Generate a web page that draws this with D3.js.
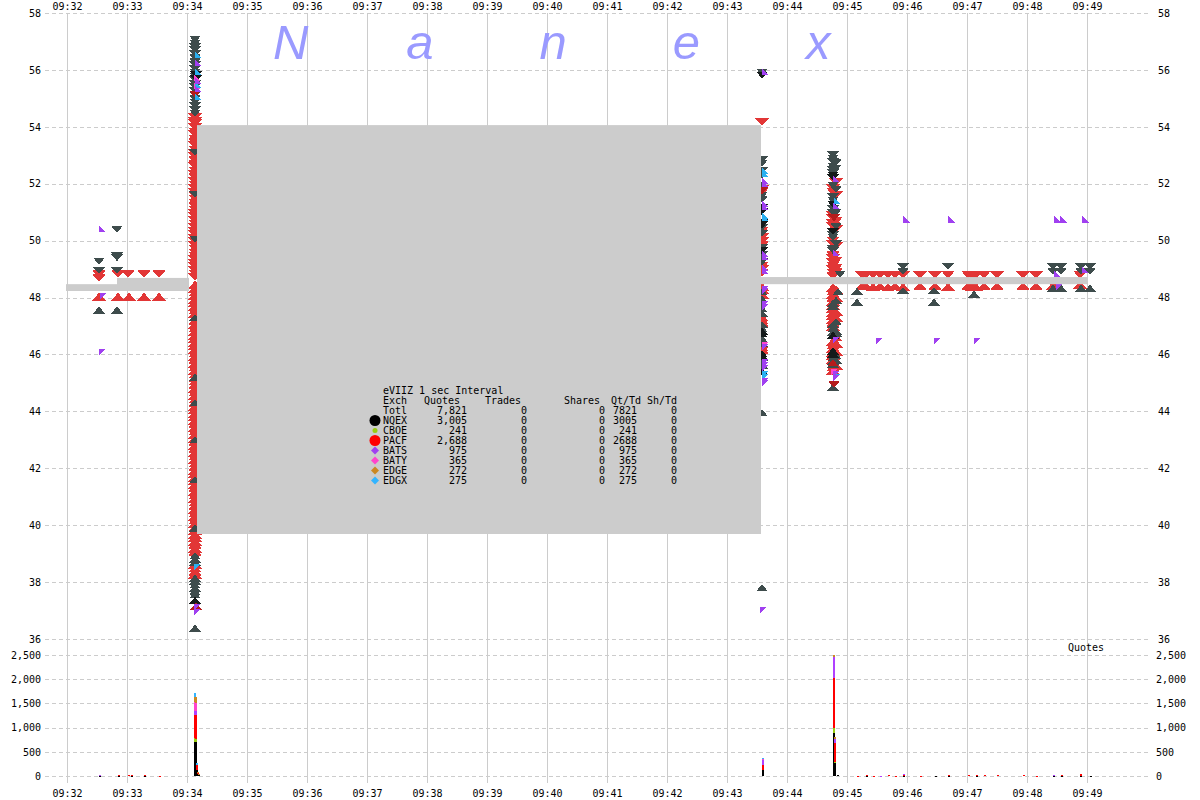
<!DOCTYPE html>
<html><head><meta charset="utf-8">
<script src="https://cdn.jsdelivr.net/npm/d3@7"></script>
<style>
body{margin:0;background:#fff}
text{font-family:"DejaVu Sans Mono",monospace;font-size:10px;fill:#000}
</style>
</head><body>
<svg id="chart" width="1200" height="800"></svg>
<script>
// ---------------- DATA ----------------
const timeTicks = ["09:32","09:33","09:34","09:35","09:36","09:37","09:38","09:39","09:40","09:41","09:42","09:43","09:44","09:45","09:46","09:47","09:48","09:49"];
const priceTicks = [36,38,40,42,44,46,48,50,52,54,56,58];
const volumeTicks = [0,500,1000,1500,2000,2500];
const watermarkLetters = ["N","a","n","e","x"];

// individual quotes: [time, price, side]  side a = ask (down), b = bid (up)
const nqexQuotes = [
  ["09:32:32",49.28,"a"],["09:32:32",48.95,"a"],["09:32:50",50.4,"a"],["09:32:50",49.47,"a"],["09:32:50",49.4,"a"],["09:32:50",48.95,"a"],
  ["09:32:32",47.56,"b"],["09:32:50",47.56,"b"],
  ["09:44:53",48.82,"a"],["09:44:51",48.2,"b"],["09:44:49",46.75,"b"],
  ["09:45:56",49.09,"a"],["09:45:56",48.92,"a"],["09:46:41",49.09,"a"],
  ["09:48:26",49.09,"a"],["09:48:34",49.09,"a"],["09:48:26",48.92,"a"],["09:48:34",48.92,"a"],
  ["09:48:54",49.09,"a"],["09:49:03",49.09,"a"],["09:48:54",48.92,"a"],["09:49:03",48.92,"a"],
  ["09:45:10",48.22,"b"],["09:45:10",47.84,"b"],["09:45:56",48.25,"b"],["09:46:27",48.25,"b"],["09:46:27",47.84,"b"],["09:47:07",48.12,"b"],
  ["09:48:26",48.33,"b"],["09:48:34",48.33,"b"],["09:48:54",48.33,"b"],["09:49:03",48.33,"b"]
];
const pacfQuotes = [
  ["09:32:32",48.83,"a"],["09:32:32",48.69,"a"],["09:32:51",48.83,"a"],["09:33:01",48.83,"a"],["09:33:17",48.83,"a"],["09:33:32",48.83,"a"],
  ["09:32:32",48.03,"b"],["09:32:51",48.03,"b"],["09:33:02",48.03,"b"],["09:33:17",48.03,"b"],["09:33:32",48.03,"b"],
  ["09:45:15",48.78,"a"],["09:45:19",48.8,"a"],["09:45:26",48.8,"a"],["09:45:33",48.78,"a"],["09:45:41",48.8,"a"],["09:45:48",48.78,"a"],["09:45:56",48.78,"a"],
  ["09:46:13",48.78,"a"],["09:46:28",48.78,"a"],["09:46:41",48.8,"a"],["09:47:01",48.8,"a"],["09:47:05",48.78,"a"],["09:47:09",48.78,"a"],["09:47:17",48.8,"a"],
  ["09:47:30",48.78,"a"],["09:47:56",48.78,"a"],["09:48:09",48.78,"a"],["09:48:53",48.8,"a"],
  ["09:45:15",48.4,"b"],["09:45:19",48.4,"b"],["09:45:26",48.38,"b"],["09:45:33",48.4,"b"],["09:45:41",48.36,"b"],["09:45:48",48.4,"b"],["09:45:56",48.38,"b"],
  ["09:46:13",48.4,"b"],["09:46:28",48.4,"b"],["09:46:41",48.38,"b"],["09:47:01",48.4,"b"],["09:47:05",48.38,"b"],["09:47:09",48.38,"b"],["09:47:17",48.4,"b"],
  ["09:47:30",48.4,"b"],["09:47:56",48.4,"b"],["09:48:09",48.4,"b"],["09:48:26",48.42,"b"],["09:48:53",48.45,"b"]
];
const batsQuotes = [
  ["09:32:35",50.42,"a"],["09:32:35",46.06,"b"],["09:32:36",48.05,"b"],
  ["09:43:36",37.0,"b"],
  ["09:45:59",50.76,"a"],["09:46:44",50.76,"a"],["09:48:30",50.76,"a"],["09:48:36",50.76,"a"],["09:48:58",50.76,"a"],
  ["09:45:32",46.47,"b"],["09:46:30",46.47,"b"],["09:47:10",46.47,"b"],
  ["09:48:30",48.85,"a"],["09:48:58",49.0,"a"],["09:48:32",48.35,"b"]
];

// the bursts of quotes (price lists per burst)
const burstTimes = ["09:34:08","09:43:35","09:44:46","09:44:49"];
// burst 1 (09:34:08)
const pacfAsk1 = [54.33,54.2,54.12,53.98,53.83,53.74,53.58,53.47,53.36,53.2,53.08,52.97,52.84,52.7,52.61,52.46,52.33,52.24,52.08,51.97,51.85,51.7,51.61,51.48,51.33,51.22,51.09,50.96,50.86,50.71,50.6,50.47,50.34,50.22,50.08,49.98,49.84,49.72,49.58,49.47,49.35,49.21,49.1,48.96,48.84,48.72];
const pacfBid1 = [48.45,48.3,48.18,48.06,47.92,47.81,47.67,47.55,47.42,47.3,47.17,47.05,46.92,46.8,46.66,46.55,46.42,46.3,46.17,46.04,45.92,45.8,45.67,45.55,45.42,45.3,45.16,45.05,44.92,44.8,44.67,44.55,44.42,44.29,44.17,44.05,43.92,43.8,43.66,43.55,43.42,43.3,43.17,43.04,42.92,42.8,42.67,42.55,42.42,42.3,42.17,42.04,41.92,41.8,41.67,41.55,41.42,41.3,41.17,41.05,40.92,40.8,40.67,40.55,40.42,40.3,40.17,40.04,39.92,39.8,39.67,39.55,39.42,39.3,39.17,39.05,38.6,38.48,38.35,38.25];
const nqexAsk1 = [57.08,56.94,56.82,56.7,56.56,56.44,56.3,56.18,56.05,55.92,55.78,55.66,55.52,55.4,55.26,55.14,55.0,54.87,54.74,54.6,54.48,53.1,51.62,50.05];
const nqexBid1 = [47.3,45.2,44.3,43.0,41.6,39.9,38.92,38.8,38.7,38.14,38.02,37.9,37.78,37.66,37.55,36.38];
const darkAsk1 = [55.84,55.7];
const darkBid1 = [37.36];
const redDarkAsk1 = [55.15];
const redDarkBid1 = [37.15];
const batsAsk1 = [56.25,55.62,55.35];
const batsBid1 = [37.1,36.92];
const batyAsk1 = [55.75,55.45];
const edgxAsk1 = [56.55,55.95,55.5,55.05];
const edgxBid1 = [38.5];
// burst 2 (09:43:35)
const pacfAsk2 = [54.17,51.8,51.72,50.35,50.12,49.98,49.85,49.12,49.0,48.88];
const pacfBid2 = [48.38,48.28,48.1,47.3,47.2,47.1,46.35,46.25,46.15];
const nqexAsk2 = [55.92,52.85,52.72,52.45,52.3,51.95,51.6,51.45,50.45,50.25,49.75,49.5,49.38,49.25];
const nqexBid2 = [48.2,47.95,47.82,47.6,47.45,47.05,46.9,46.55,46.4,45.9,45.78,45.62,43.95,37.8];
const darkAsk2 = [55.82,51.15,51.02,50.62,50.55,49.65];
const darkBid2 = [46.82,46.72,46.02,45.92,45.4];
const redDarkAsk2 = [51.75];
const batsAsk2 = [55.95,52.1,52.0,51.3,51.2,49.55,49.45,49.05,48.95];
const batsBid2 = [48.3,48.2,47.75,47.65,46.25,45.7,45.6,45.5,45.05,44.98];
const batyBid2 = [46.3];
const edgxAsk2 = [52.45,52.35,50.88,50.8];
const edgxBid2 = [45.28,45.2];
// burst 3 (09:44:46)
const pacfAsk3 = [51.85,51.72,50.9,50.78,50.62,50.5,50.0,49.88,49.5,49.38,49.25,49.12,49.0,48.88,48.76];
const pacfBid3 = [48.35,48.22,48.1,47.98,47.85,47.72,47.6,47.47,47.35,47.22,47.1,46.97,46.45,46.32,46.2,46.05,45.95,45.82,45.55,45.42];
const nqexAsk3 = [53.02,52.9,52.78,52.62,52.5,52.38,51.95,51.55,51.42,51.12,50.98,50.2,50.12,49.72,49.65];
const nqexBid3 = [47.8,47.7,47.05,46.9,46.78,45.88,45.75,45.65,44.85];
const darkAsk3 = [52.3,52.22,51.28,50.32];
const darkBid3 = [46.68,46.12,46.0];
const redDarkAsk3 = [50.8,44.95];
const redDarkBid3 = [45.7];
const batsAsk3 = [52.2,49.6,51.25];
const batsBid3 = [46.5,45.3,45.15];
const batyBid3 = [45.38];
const edgxAsk3 = [51.4];
const edgxBid3 = [45.2];
// burst 4 (09:44:49, right edge of the same burst)
const pacfAsk4 = [52.05,51.6,50.7,50.4,49.8,49.3,49.05,48.9];
const pacfBid4 = [48.28,48.0,47.5,47.28,46.6,46.38,46.1,45.6];
const nqexAsk4 = [52.75,52.55,51.8,51.0,50.5,49.9];
const nqexBid4 = [47.9,47.15,46.82,45.95,45.8];
// offsets (s) of the small right-angle markers to the right of each burst
const smallMarkerShift = [3,3,3];

// gray NBBO band segments
const bandStart = ["09:31:59","09:32:50","09:34:10","09:43:34"];
const bandEnd   = ["09:32:50","09:34:02","09:43:34","09:49:01"];
const bandLow   = [48.23,48.23,39.69,48.47];
const bandHigh  = [48.47,48.69,54.06,48.72];

// quote counts per second, stacked by exchange
const volTimes = ["09:32:32","09:32:51","09:33:01","09:33:04","09:33:17","09:33:32","09:34:07","09:34:08","09:34:09","09:34:10","09:34:11",
  "09:43:35","09:44:46","09:44:47","09:44:50","09:45:10","09:45:19","09:45:26","09:45:33","09:45:41","09:45:48","09:45:56","09:46:13",
  "09:46:28","09:46:41","09:47:01","09:47:09","09:47:17","09:47:30","09:47:56","09:48:09","09:48:26","09:48:34","09:48:53","09:49:03"];
const volNqex = [8,4,0,2,2,0,710,700,120,40,30,124,882,262,20,0,2,0,0,0,0,6,0,8,8,0,2,0,0,0,0,8,10,4,8];
const volCboe = [0,0,0,0,0,0,75,70,0,0,0,0,103,34,0,0,0,0,0,0,0,0,0,0,0,0,0,0,0,0,0,0,0,0,0];
const volPacf = [6,10,12,10,12,10,475,490,110,20,10,103,1033,380,0,10,12,10,8,12,10,28,10,0,4,12,10,14,12,12,8,6,4,30,0];
const volBats = [2,0,0,0,0,0,90,85,0,0,0,103,447,82,0,0,0,0,2,0,0,2,0,0,0,0,0,0,0,0,0,2,0,0,0];
const volBaty = [0,0,0,0,0,0,185,170,0,0,0,29,0,0,0,0,0,0,0,0,0,0,0,0,0,0,0,0,0,0,0,0,0,0,0];
const volEdge = [0,0,0,0,0,0,105,115,0,25,10,0,35,42,0,0,0,0,0,0,0,0,0,0,0,0,0,0,0,0,0,0,0,0,0];
const volEdgx = [0,0,0,0,0,0,80,0,30,0,0,19,0,0,0,0,0,0,0,0,0,0,0,0,0,0,0,0,0,0,0,0,0,0,0];

// legend table
const legendTitle = "eVIIZ 1 sec Interval";
const legendHeader = ["Exch","Quotes","Trades","Shares","Qt/Td","Sh/Td"];
const legendExch = ["Totl","NQEX","CBOE","PACF","BATS","BATY","EDGE","EDGX"];
const legendQuotes = ["7,821","3,005","241","2,688","975","365","272","275"];
const legendTrades = ["0","0","0","0","0","0","0","0"];
const legendShares = ["0","0","0","0","0","0","0","0"];
const legendQtTd = ["7821","3005","241","2688","975","365","272","275"];
const legendShTd = ["0","0","0","0","0","0","0","0"];

// ---------------- DRAW ----------------
const svg = d3.select("#chart");
const secs = t => { const p = t.split(":").map(Number); return p[0]*3600 + p[1]*60 + (p[2]||0); };
const hms = s => [Math.floor(s/3600), Math.floor(s/60)%60, s%60].map(v => String(v).padStart(2,"0")).join(":");

function burst(i, prices, side, shift) {
  const t = hms(secs(burstTimes[i]) + (shift || 0));
  return (prices || []).map(p => [t, p, side]);
}
const sh = smallMarkerShift;
const pacfAll = pacfQuotes.concat(burst(3,pacfAsk4,"a"),burst(3,pacfBid4,"b"),burst(0,pacfAsk1,"a"),burst(0,pacfBid1,"b"),burst(1,pacfAsk2,"a"),burst(1,pacfBid2,"b"),burst(2,pacfAsk3,"a"),burst(2,pacfBid3,"b"));
const nqexAll = nqexQuotes.concat(burst(3,nqexAsk4,"a"),burst(3,nqexBid4,"b"),burst(0,nqexAsk1,"a"),burst(0,nqexBid1,"b"),burst(1,nqexAsk2,"a"),burst(1,nqexBid2,"b"),burst(2,nqexAsk3,"a"),burst(2,nqexBid3,"b"));
const darkAll = [].concat(burst(0,darkAsk1,"a",1),burst(0,darkBid1,"b"),burst(1,darkAsk2,"a"),burst(1,darkBid2,"b"),burst(2,darkAsk3,"a"),burst(2,darkBid3,"b"));
const redDarkAll = [].concat(burst(0,redDarkAsk1,"a"),burst(0,redDarkBid1,"b",1),burst(1,redDarkAsk2,"a"),burst(2,redDarkAsk3,"a",1),burst(2,redDarkBid3,"b"));
const batsAll = batsQuotes.concat(burst(0,batsAsk1,"a",sh[0]),burst(0,batsBid1,"b",2),burst(1,batsAsk2,"a",sh[1]),burst(1,batsBid2,"b",sh[1]),burst(2,batsAsk3,"a",sh[2]),burst(2,batsBid3,"b",sh[2]));
const batyAll = [].concat(burst(0,batyAsk1,"a",2),burst(1,batyBid2,"b",sh[1]),burst(2,batyBid3,"b",1));
const edgxAll = [].concat(burst(0,edgxAsk1,"a",sh[0]),burst(0,edgxBid1,"b",2),burst(1,edgxAsk2,"a",sh[1]),burst(1,edgxBid2,"b",sh[1]),burst(2,edgxAsk3,"a",4),burst(2,edgxBid3,"b",4));

const x = d3.scaleLinear().domain([secs("09:31:38"), secs("09:50:03")]).range([45, 1150]);
const yP = d3.scaleLinear().domain([36, 58]).range([639, 13]);
const yV = d3.scaleLinear().domain([0, 2500]).range([776, 655]);

const gridColor = "#cccccc";
const grid = svg.append("g");
grid.selectAll(".hp").data(priceTicks).join("line")
  .attr("x1", x.range()[0]).attr("x2", x.range()[1])
  .attr("y1", d => Math.round(yP(d)) + 0.5).attr("y2", d => Math.round(yP(d)) + 0.5)
  .attr("stroke", gridColor).attr("stroke-dasharray", "4,3");
grid.selectAll(".hv").data(volumeTicks).join("line")
  .attr("x1", x.range()[0]).attr("x2", x.range()[1])
  .attr("y1", d => Math.round(yV(d)) + 0.5).attr("y2", d => Math.round(yV(d)) + 0.5)
  .attr("stroke", gridColor).attr("stroke-dasharray", "4,3");
grid.selectAll(".vt").data(timeTicks).join("line")
  .attr("x1", d => Math.round(x(secs(d))) + 0.5).attr("x2", d => Math.round(x(secs(d))) + 0.5)
  .attr("y1", yP(58)).attr("y2", 783)
  .attr("stroke", gridColor);

// watermark
const wmX = d3.scalePoint().domain(d3.range(watermarkLetters.length)).range([273, 806]);
svg.append("g").selectAll("text").data(watermarkLetters).join("text")
  .attr("x", (d, i) => wmX(i)).attr("y", 59)
  .style("font-family", "'Liberation Sans', Arial, sans-serif").style("font-style", "italic")
  .style("font-size", "49px").style("fill", "#9a9aff")
  .text(d => d);

// axes
function styleAxis(g) { g.select(".domain").remove(); g.selectAll("text").style("font-family", "'DejaVu Sans Mono',monospace").style("font-size", "10px").attr("fill", "#000"); }
svg.append("g").attr("transform", "translate(0,13)")
  .call(d3.axisTop(x).tickValues(timeTicks.map(secs)).tickSize(0).tickPadding(3).tickFormat((d, i) => timeTicks[i])).call(styleAxis);
svg.append("g").attr("transform", "translate(0,783)")
  .call(d3.axisBottom(x).tickValues(timeTicks.map(secs)).tickSize(0).tickPadding(7).tickFormat((d, i) => timeTicks[i])).call(styleAxis);
svg.append("g").attr("transform", "translate(45,0)")
  .call(d3.axisLeft(yP).tickValues(priceTicks).tickSize(0).tickPadding(4).tickFormat(d3.format("d"))).call(styleAxis);
svg.append("g").attr("transform", "translate(1150,0)")
  .call(d3.axisRight(yP).tickValues(priceTicks).tickSize(0).tickPadding(8).tickFormat(d3.format("d"))).call(styleAxis);
svg.append("g").attr("transform", "translate(45,0)")
  .call(d3.axisLeft(yV).tickValues(volumeTicks).tickSize(0).tickPadding(4).tickFormat(d3.format(","))).call(styleAxis);
svg.append("g").attr("transform", "translate(1150,0)")
  .call(d3.axisRight(yV).tickValues(volumeTicks).tickSize(0).tickPadding(6).tickFormat(d3.format(","))).call(styleAxis);

// markers
function triPath(d, w, h) {
  const cx = x(secs(d[0])), cy = yP(d[1]);
  if (d[2] === "a") return `M${cx - w/2},${cy - h/2}L${cx + w/2},${cy - h/2}L${cx},${cy + h/2}Z`;
  return `M${cx - w/2},${cy + h/2}L${cx + w/2},${cy + h/2}L${cx},${cy - h/2}Z`;
}
function halfPath(d, s) {
  const cx = x(secs(d[0])), cy = yP(d[1]);
  const l = cx - s/2, r = cx + s/2, t = cy - s/2, b = cy + s/2;
  if (d[2] === "a") return `M${l},${t}L${l},${b}L${r},${b}Z`;
  return `M${l},${t}L${r},${t}L${l},${b}Z`;
}
const mk = svg.append("g").attr("shape-rendering", "crispEdges");
function drawTri(data, color, w, h) {
  mk.append("g").selectAll("path").data(data).join("path").attr("d", d => triPath(d, w, h)).attr("fill", color);
}
function drawHalf(data, color, s) {
  mk.append("g").selectAll("path").data(data).join("path").attr("d", d => halfPath(d, s)).attr("fill", color);
}
drawTri(pacfAll, "#e23636", 14, 8);
drawTri(nqexAll, "#3e4c4c", 12, 7);
drawTri(darkAll, "#141a1a", 12, 7);
drawTri(redDarkAll, "#b41c1c", 12, 7);
drawHalf(batyAll, "#ff44cc", 7);
drawHalf(edgxAll, "#2ab0f0", 7);
drawHalf(batsAll, "#a040f0", 7);

// band (drawn over the markers)
svg.append("g").selectAll("rect").data(bandStart).join("rect")
  .attr("x", (d, i) => x(secs(d)))
  .attr("width", (d, i) => x(secs(bandEnd[i])) - x(secs(d)))
  .attr("y", (d, i) => yP(bandHigh[i]))
  .attr("height", (d, i) => yP(bandLow[i]) - yP(bandHigh[i]))
  .attr("fill", "#cccccc");

// legend
const lg = svg.append("g");
const lx0 = 383, ly0 = 394, lh = 10;
lg.append("text").attr("x", lx0).attr("y", ly0).text(legendTitle);
const hdrX = [383, 424, 485, 564, 611, 647];
lg.selectAll(".hd").data(legendHeader).join("text").attr("x", (d, i) => hdrX[i]).attr("y", ly0 + lh).text(d => d);
const rowY = i => ly0 + lh * (i + 2);
lg.selectAll(".ex").data(legendExch).join("text").attr("x", lx0).attr("y", (d, i) => rowY(i)).text(d => d);
const colRight = [[legendQuotes, 467], [legendTrades, 527], [legendShares, 605], [legendQtTd, 637], [legendShTd, 677]];
colRight.forEach(([arr, xr]) => {
  lg.append("g").selectAll("text").data(arr).join("text").attr("x", xr).attr("y", (d, i) => rowY(i)).attr("text-anchor", "end").text(d => d);
});
const exchColor = {NQEX: "#000000", CBOE: "#99cc11", PACF: "#ff0000", BATS: "#a040f0", BATY: "#ff44cc", EDGE: "#cc8822", EDGX: "#33b4ff"};
legendExch.slice(1).forEach((e, j) => {
  const cy = rowY(j + 1) - 3.5, cx = 375;
  if (e === "NQEX" || e === "PACF") lg.append("circle").attr("cx", cx).attr("cy", cy).attr("r", 5.5).attr("fill", exchColor[e]);
  else if (e === "CBOE") lg.append("circle").attr("cx", cx).attr("cy", cy).attr("r", 2.5).attr("fill", exchColor[e]);
  else lg.append("path").attr("d", `M${cx},${cy-4}L${cx+4},${cy}L${cx},${cy+4}L${cx-4},${cy}Z`).attr("fill", exchColor[e]);
});

// volume stacked bars
const volSeries = [volNqex, volCboe, volPacf, volBats, volBaty, volEdge, volEdgx];
const volColors = ["#000000", "#99cc11", "#ff0000", "#b040ff", "#ff44cc", "#cc8822", "#33b4ff"];
const vg = svg.append("g").attr("shape-rendering", "crispEdges");
volTimes.forEach((t, i) => {
  let base = 0;
  volSeries.forEach((s, k) => {
    const v = s[i];
    if (v > 0) {
      vg.append("rect").attr("x", x(secs(t))).attr("width", 1.6)
        .attr("y", yV(base + v)).attr("height", Math.max(1, yV(base) - yV(base + v)))
        .attr("fill", volColors[k]);
    }
    base += v;
  });
});
svg.append("text").attr("x", 1068).attr("y", 651).text("Quotes");
</script>
</body></html>
